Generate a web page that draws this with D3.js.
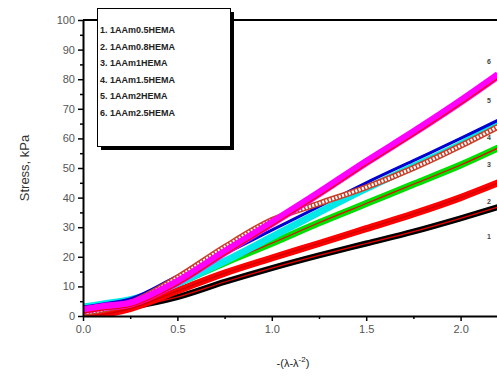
<!DOCTYPE html>
<html>
<head>
<meta charset="utf-8">
<script src="https://cdn.jsdelivr.net/npm/d3@7"></script>
<style>
  body { margin: 0; background: #fff; }
  svg { display: block; font-family: "Liberation Sans", Arial, sans-serif; }
</style>
</head>
<body>
<svg id="chart"></svg>
<script>
// strain values shared by all curves
const strain = [0, 0.1, 0.25, 0.5, 0.75, 1.0, 1.25, 1.5, 1.75, 2.0, 2.2];

const black   = [0.5, 1.5, 3, 6.4, 11.5, 16.2, 20.5, 24.5, 28.5, 33, 36.8];
const red     = [0, 0.5, 2.5, 8.5, 14.5, 19.6, 24.5, 29.5, 34.5, 40, 45];
const green   = [2, 3, 5, 11, 18, 24.6, 31.5, 38, 44.5, 51, 56.8];
const cyan    = [3, 4, 5.5, 11, 18.5, 26.7, 35, 43, 50.5, 58, 65];
const blue    = [3, 4, 5.8, 13.5, 21, 29, 37, 45, 52.5, 60, 66.2];
const brown   = [1, 2, 4.5, 13, 23.3, 32.4, 38, 43.5, 50, 57.5, 64];
const magenta = [2, 3, 4.2, 11.5, 21.6, 31.4, 41.5, 52, 62, 72.5, 81.4];

const legendItems = ["1. 1AAm0.5HEMA", "2. 1AAm0.8HEMA", "3. 1AAm1HEMA",
                     "4. 1AAm1.5HEMA", "5. 1AAm2HEMA", "6. 1AAm2.5HEMA"];
const endLabels = ["6", "5", "4", "3", "2", "1"];
const endLabelValues = [85, 72, 59.5, 50.5, 38, 26];

const xTicks = [0, 0.5, 1.0, 1.5, 2.0];
const yTicks = [0, 10, 20, 30, 40, 50, 60, 70, 80, 90, 100];

const W = 497, H = 378;
const mLeft = 83, mTop = 20, mBottom = 316;
const svg = d3.select("#chart").attr("width", W).attr("height", H);

const x = d3.scaleLinear().domain([0, 2.2]).range([mLeft, mLeft + 2.2 * 188.8]);
const y = d3.scaleLinear().domain([0, 100]).range([mBottom, mTop]);

svg.append("clipPath").attr("id", "clip")
  .append("rect").attr("x", mLeft).attr("y", mTop).attr("width", W - mLeft).attr("height", mBottom - mTop);

const plot = svg.append("g").attr("clip-path", "url(#clip)");
const line = d3.line().x((d, i) => x(strain[i])).y(d => y(d)).curve(d3.curveMonotoneX);

function band(values, color, width, inner) {
  plot.append("path").attr("d", line(values)).attr("fill", "none")
    .attr("stroke", color).attr("stroke-width", width).attr("stroke-linejoin", "round");
  if (inner) {
    plot.append("path").attr("d", line(values)).attr("fill", "none")
      .attr("stroke", inner).attr("stroke-width", 1.2);
  }
}

band(black, "#000", 6, "#e00");
band(red, "#f00", 7, "#c00");
band(green, "#00e000", 7, "#e00");
band(cyan, "#00e8e8", 7, null);
band(blue, "#0000d0", 3, null);
// open circles series
plot.append("path").attr("d", line(brown)).attr("fill", "none")
  .attr("stroke", "#c8402a").attr("stroke-width", 6);
plot.append("path").attr("d", line(brown)).attr("fill", "none")
  .attr("stroke", "#fff").attr("stroke-width", 3).attr("stroke-dasharray", "2,1.5");
band(magenta, "#ff00ff", 8, null);
plot.append("path").attr("d", line(magenta.map(v => v - 1))).attr("fill", "none")
  .attr("stroke", "#e00").attr("stroke-width", 1.2);

// end labels
svg.selectAll(".endlab").data(endLabels).enter().append("text")
  .attr("x", 487).attr("y", (d, i) => y(endLabelValues[i]))
  .attr("font-size", 7).attr("font-weight", "bold").attr("fill", "#444")
  .text(d => d);

// axes
const xAxis = d3.axisBottom(x).tickValues(xTicks).tickFormat(d3.format(".1f")).tickSize(5).tickPadding(4);
const gx = svg.append("g").attr("transform", `translate(0,${mBottom})`).call(xAxis);
gx.select(".domain").attr("d", `M${mLeft},0.5H${W}`).attr("stroke-width", 2);
svg.append("g").attr("transform", `translate(0,${mBottom})`)
  .call(d3.axisBottom(x).tickValues([0.25, 0.75, 1.25, 1.75]).tickFormat("").tickSize(3))
  .select(".domain").remove();

const yAxis = d3.axisLeft(y).tickValues(yTicks).tickSize(5).tickPadding(3);
const gy = svg.append("g").attr("transform", `translate(${mLeft},0)`).call(yAxis);
gy.select(".domain").attr("d", `M0.5,${mBottom}V${mTop}`).attr("stroke-width", 2);
svg.append("g").attr("transform", `translate(${mLeft},0)`)
  .call(d3.axisLeft(y).tickValues(d3.range(5, 100, 10)).tickFormat("").tickSize(3))
  .select(".domain").remove();

svg.selectAll(".tick text").attr("font-size", 11).attr("fill", "#555")
  .attr("font-family", "Liberation Sans, Arial, sans-serif");
svg.selectAll(".tick line").attr("stroke-width", 1.5);

// top frame line
svg.append("line").attr("x1", mLeft).attr("x2", W).attr("y1", mTop).attr("y2", mTop)
  .attr("stroke", "#000").attr("stroke-width", 2);

// axis titles
svg.append("text").attr("transform", `translate(29,${(mTop + mBottom) / 2}) rotate(-90)`)
  .attr("text-anchor", "middle").attr("font-size", 13).attr("fill", "#333").text("Stress, kPa");
const xt = svg.append("text").attr("x", 293).attr("y", 367).attr("text-anchor", "middle")
  .attr("font-size", 11).attr("fill", "#222");
xt.append("tspan").text("-(λ-λ");
xt.append("tspan").attr("dy", -5).attr("font-size", 8).text("-2");
xt.append("tspan").attr("dy", 5).text(")");

// legend box with shadow
svg.append("rect").attr("x", 101).attr("y", 12).attr("width", 133).attr("height", 138).attr("fill", "#000");
svg.append("rect").attr("x", 97.5).attr("y", 8.5).attr("width", 133).attr("height", 138)
  .attr("fill", "#fff").attr("stroke", "#000").attr("stroke-width", 1);
svg.selectAll(".leg").data(legendItems).enter().append("text")
  .attr("x", 100).attr("y", (d, i) => 33 + i * 16.6)
  .attr("font-size", 9).attr("font-weight", "bold").attr("fill", "#222")
  .text(d => d);
</script>
</body>
</html>
